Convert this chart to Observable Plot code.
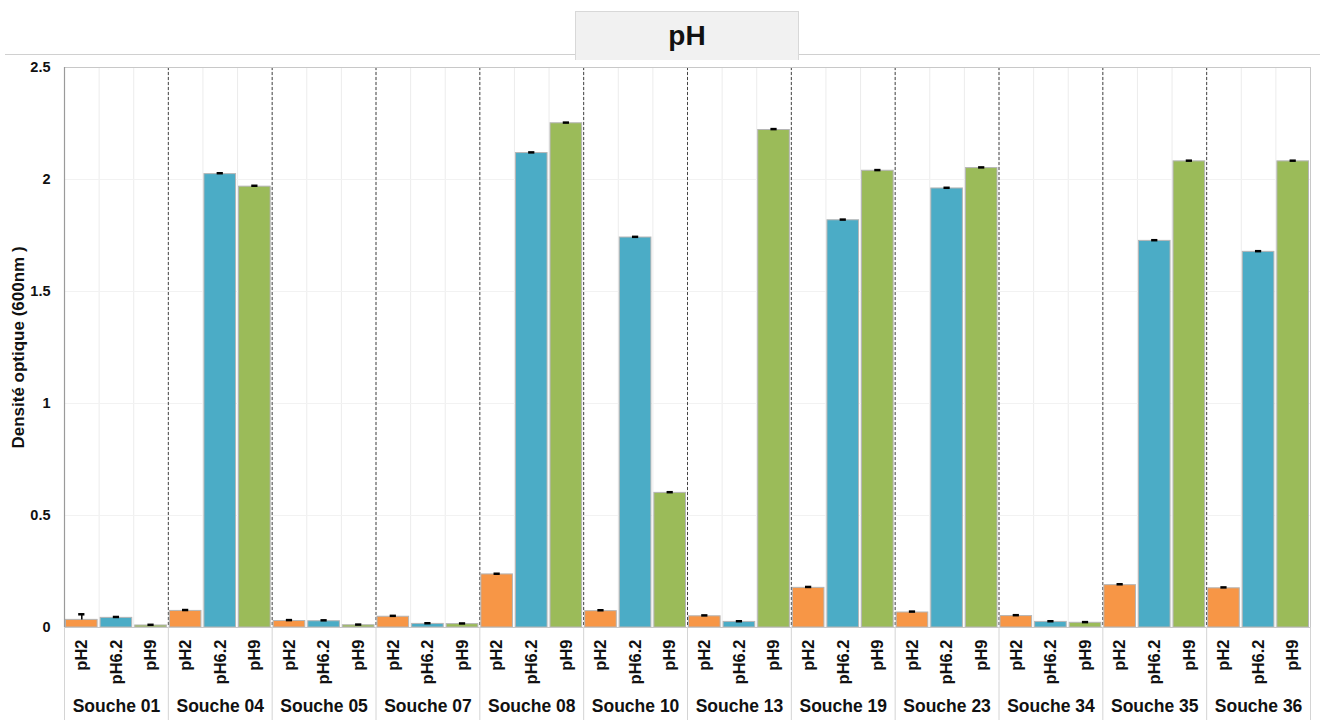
<!DOCTYPE html>
<html><head><meta charset="utf-8">
<script src="https://cdn.jsdelivr.net/npm/d3@7"></script>
<script src="https://cdn.jsdelivr.net/npm/@observablehq/plot@0.6"></script>
<style>
body{margin:0;background:#fff;font-family:"Liberation Sans",Arial,sans-serif;}
#header{position:relative;height:58px;width:1320px;}
#header .line{position:absolute;left:5px;right:0;top:54px;height:0;border-top:1.5px solid #d0d0d0;}
#header .title{position:absolute;left:575px;width:222px;top:11px;height:48px;background:#f1f1f1;border:1px solid #d8d8d8;border-bottom:none;display:flex;align-items:center;justify-content:center;font-weight:bold;font-size:28px;color:#111;}
#chart svg{display:block;}
</style></head><body>
<div id="header"><div class="line"></div><div class="title">pH</div></div>
<div id="chart"></div>
<script>
const groups = ["Souche 01","Souche 04","Souche 05","Souche 07","Souche 08","Souche 10","Souche 13","Souche 19","Souche 23","Souche 34","Souche 35","Souche 36"];
const phLevels = ["pH2","pH6.2","pH9"];
const yTicks = [0, 0.5, 1, 1.5, 2, 2.5];
const yLabel = "Densité optique (600nm )";
const valuesPH2  = [0.034, 0.074, 0.029, 0.048, 0.237, 0.073, 0.050, 0.177, 0.067, 0.051, 0.189, 0.175];
const valuesPH62 = [0.043, 2.024, 0.028, 0.016, 2.118, 1.741, 0.025, 1.818, 1.960, 0.025, 1.726, 1.677];
const valuesPH9  = [0.009, 1.968, 0.010, 0.015, 2.251, 0.601, 2.221, 2.039, 2.051, 0.021, 2.081, 2.081];
const errPH2  = [0.025, 0.004, 0.004, 0.004, 0.003, 0.004, 0.004, 0.004, 0.004, 0.004, 0.004, 0.004];
const errPH62 = [0.004, 0.004, 0.004, 0.003, 0.003, 0.003, 0.003, 0.003, 0.003, 0.003, 0.003, 0.003];
const errPH9  = [0.003, 0.004, 0.003, 0.003, 0.003, 0.003, 0.004, 0.003, 0.003, 0.003, 0.003, 0.003];
const colors = ["#F79646", "#4BACC6", "#9BBB59"];

const series = [valuesPH2, valuesPH62, valuesPH9];
const errs = [errPH2, errPH62, errPH9];
const rows = groups.flatMap((g, gi) => phLevels.map((p, pi) => ({
  group: g, ph: p, i: gi * 3 + pi, value: series[pi][gi], err: errs[pi][gi]
})));
const n = rows.length;
const bounds = d3.range(0, n + 1);
const groupBounds = d3.range(0, n + 1, 3);
const font = "'Liberation Sans', Arial, sans-serif";

const chart = Plot.plot({
  width: 1320,
  height: 662,
  marginTop: 9,
  marginBottom: 93,
  marginLeft: 64,
  marginRight: 10,
  style: {fontFamily: font, color: "#111", background: "#fff"},
  x: {domain: [0, n]},
  y: {domain: [0, 2.5]},
  color: {domain: phLevels, range: colors},
  marks: [
    Plot.ruleX(bounds, {stroke: "#ececec", strokeWidth: 1}),
    Plot.ruleY(yTicks.slice(1, -1), {stroke: "#f2f2f2", strokeWidth: 1}),
    Plot.ruleX(groupBounds.slice(1, -1), {stroke: "#444", strokeWidth: 1, strokeDasharray: "3,2"}),
    Plot.rect(rows, {x1: d => d.i, x2: d => d.i + 1, y1: 0, y2: "value", fill: "ph", stroke: "#b5b5b5", strokeWidth: 1, insetLeft: 1.5, insetRight: 1.5}),
    Plot.ruleX(rows, {x: d => d.i + 0.5, y1: "value", y2: d => d.value + d.err, stroke: "#000", strokeWidth: 1.5}),
    Plot.ruleY(rows, {y: d => d.value + d.err, x1: d => d.i + 0.41, x2: d => d.i + 0.59, stroke: "#000", strokeWidth: 2.5}),
    Plot.frame({stroke: "#c8c8c8"}),
    Plot.ruleX([0], {stroke: "#9a9a9a", strokeWidth: 1.2}),
    Plot.axisY({ticks: yTicks, tickFormat: d => String(d), tickSize: 0, tickPadding: 14, fontWeight: "bold", fontSize: 14.5, label: null}),
    Plot.text([yLabel], {frameAnchor: "left", rotate: -90, dx: -46, textAnchor: "middle", fontSize: 17, fontWeight: "bold", fill: "#111"}),
    Plot.axisX(groupBounds, {tickSize: 93, tickFormat: () => "", stroke: "#d4d4d4", label: null}),
    Plot.axisX(rows.map(d => d.i + 0.5), {tickFormat: v => phLevels[Math.floor(v) % 3], tickRotate: -90, tickSize: 0, tickPadding: 12,
      fontWeight: "bold", fontSize: 16.5, label: null}),
    Plot.axisX(groups.map((g, gi) => gi * 3 + 1.5), {tickFormat: v => groups[Math.floor(v / 3)], tickSize: 0, tickPadding: 72,
      fontWeight: "bold", fontSize: 17.5, label: null})
  ]
});
document.getElementById("chart").appendChild(chart);
</script>
</body></html>
